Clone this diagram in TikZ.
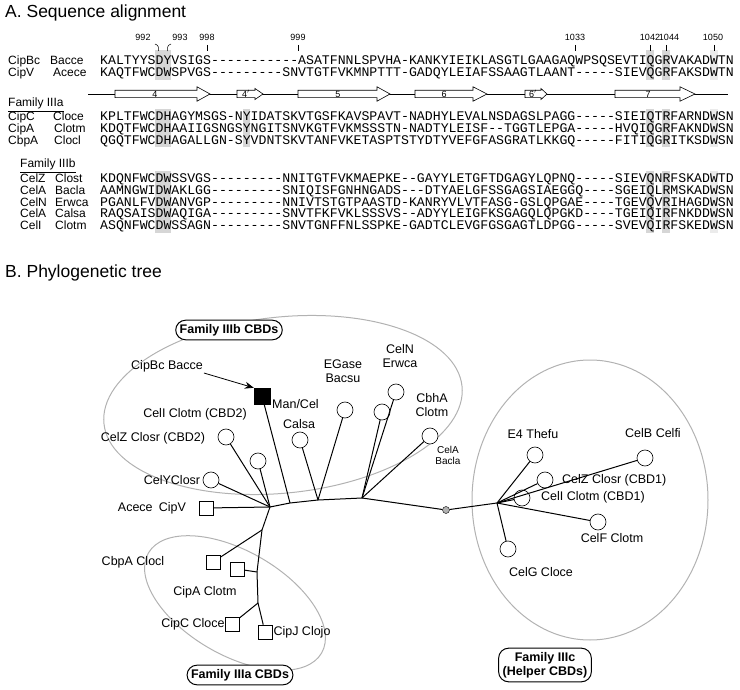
\documentclass[tikz,border=0pt]{standalone}
\usepackage{fontspec}
\setmainfont{Liberation Sans}
\newfontfamily\seqfont{Liberation Mono}
\usetikzlibrary{arrows.meta,shapes.geometric}
\begin{document}
\begin{tikzpicture}[x=1pt,y=-1pt,
  title/.style={font=\fontsize{17.5}{17.5}\selectfont, anchor=base west, inner sep=0pt},
  lab/.style={font=\fontsize{12}{12}\selectfont, anchor=base west, inner sep=0pt},
  seq/.style={font=\seqfont\fontsize{13.2}{11}\selectfont, anchor=base west, inner sep=0pt},
  num/.style={font=\fontsize{9}{9}\selectfont, inner sep=0pt},
  slab/.style={font=\fontsize{9}{9}\selectfont, inner sep=0pt},
  shA/.style={fill=gray!32},
  shB/.style={fill=gray!16},
  strand/.style={draw, fill=white, line width=0.6pt},
  circ/.style={draw, circle, minimum size=16pt, inner sep=0pt, fill=white, line width=0.6pt},
  sq/.style={draw, rectangle, minimum size=14pt, inner sep=0pt, fill=white, line width=0.6pt},
  tlab/.style={font=\fontsize{12.5}{14}\selectfont, inner sep=1pt, align=center},
  fambox/.style={draw, rounded corners=10pt, fill=white, line width=1pt, font=\bfseries\fontsize{12.5}{14}\selectfont, align=center, inner sep=4pt},
  famell/.style={draw=gray!60, line width=1pt},
  edge/.style={line width=1pt}
]
\useasboundingbox (0,0) rectangle (740,690);

% ---------------- A. Sequence alignment ----------------
\node[title] (tA) at (5,18) {A. Sequence alignment};

% shading, block 1
\fill[shA] (155.44,50) rectangle (171.28,80);
\fill[shA] (646.48,50) rectangle (654.40,80);
\fill[shA] (662.32,50) rectangle (670.24,80);
\fill[shB] (709.84,50) rectangle (717.76,80);
% block IIIa
\fill[shA] (155.44,109) rectangle (171.28,147);
\fill[shA] (242.56,109) rectangle (250.48,147);
\fill[shA] (646.48,109) rectangle (654.40,147);
\fill[shA] (662.32,109) rectangle (670.24,147);
\fill[shB] (709.84,109) rectangle (717.76,147);
% block IIIb
\fill[shA] (155.44,171) rectangle (171.28,233);
\fill[shA] (646.48,171) rectangle (654.40,233);
\fill[shA] (662.32,171) rectangle (670.24,233);
\fill[shB] (709.84,171) rectangle (717.76,233);

% residue numbers
\node[num] (n992) at (143,37) {992};
\node[num] (n993) at (180,37) {993};
\node[num] (n998) at (207,37) {998};
\node[num] (n999) at (298,37) {999};
\node[num] (n1033) at (575,37) {1033};
\node[num] (n1042) at (650,37) {1042};
\node[num] (n1044) at (669,37) {1044};
\node[num] (n1050) at (713,37) {1050};
\draw[line width=0.5pt] (155,44) .. controls (158.5,45) and (159,48) .. (158.5,51);
\draw[line width=0.5pt] (171,44) .. controls (167.5,45) and (167,48) .. (167.5,51);
\foreach \xx in {206.92,298,575.2,650.44,666.28,713.8}
  \draw[line width=0.5pt] (\xx,45) -- (\xx,51);

% rows
\node[lab] (r1a) at (8,65) {CipBc};   \node[lab] (r1b) at (50,65) {Bacce};
\node[seq] (s1) at (100,65) {KALTYYSDYVSIGS-----------ASATFNNLSPVHA-KANKYIEIKLASGTLGAAGAQWPSQSEVTIQGRVAKADWTN};
\node[lab] (r2a) at (8,77) {CipV};    \node[lab] (r2b) at (53,77) {Acece};
\node[seq] (s2) at (100,77) {KAQTFWCDWSPVGS---------SNVTGTFVKMNPTTT-GADQYLEIAFSSAAGTLAANT-----SIEVQGRFAKSDWTN};

% secondary structure
\draw[line width=0.6pt] (88,94) -- (728,94);
\draw[strand] (115,90.3) -- (197,90.3) -- (197,86.8) -- (210,94) -- (197,101.2) -- (197,97.7) -- (115,97.7) -- cycle;
\draw[strand] (237,90.3) -- (255,90.3) -- (255,88.5) -- (263,94) -- (255,99.5) -- (255,97.7) -- (237,97.7) -- cycle;
\draw[strand] (298,90.3) -- (377,90.3) -- (377,86.8) -- (390,94) -- (377,101.2) -- (377,97.7) -- (298,97.7) -- cycle;
\draw[strand] (415,90.3) -- (473,90.3) -- (473,86.8) -- (487,94) -- (473,101.2) -- (473,97.7) -- (415,97.7) -- cycle;
\draw[strand] (525,90.3) -- (541,90.3) -- (541,88.5) -- (547,94) -- (541,99.5) -- (541,97.7) -- (525,97.7) -- cycle;
\draw[strand] (615,90.3) -- (680,90.3) -- (680,86.8) -- (695,94) -- (680,101.2) -- (680,97.7) -- (615,97.7) -- cycle;
\node[slab] (st4) at (155,94) {4};
\node[slab] (st4p) at (246,94) {4$'$};
\node[slab] (st5) at (338,94) {5};
\node[slab] (st6) at (444,94) {6};
\node[slab] (st6p) at (533,94) {6$'$};
\node[slab] (st7) at (648,94) {7};

\node[lab] (fIIIa) at (8,107) {\underline{Family IIIa}};
\node[lab] (r3a) at (8,121) {CipC};  \node[lab] (r3b) at (53,121) {Cloce};
\node[seq] (s3) at (100,121) {KPLTFWCDHAGYMSGS-NYIDATSKVTGSFKAVSPAVT-NADHYLEVALNSDAGSLPAGG-----SIEIQTRFARNDWSN};
\node[lab] (r4a) at (8,133) {CipA};  \node[lab] (r4b) at (54,133) {Clotm};
\node[seq] (s4) at (100,133) {KDQTFWCDHAAIIGSNGSYNGITSNVKGTFVKMSSSTN-NADTYLEISF--TGGTLEPGA-----HVQIQGRFAKNDWSN};
\node[lab] (r5a) at (8,145) {CbpA};  \node[lab] (r5b) at (54,145) {Clocl};
\node[seq] (s5) at (100,145) {QGQTFWCDHAGALLGN-SYVDNTSKVTANFVKETASPTSTYDTYVEFGFASGRATLKKGQ-----FITIQGRITKSDWSN};

\node[lab] (fIIIb) at (20,168) {\underline{Family IIIb}};
\node[lab] (r6a) at (20,183) {CelZ};  \node[lab] (r6b) at (55,183) {Clost};
\node[seq] (s6) at (100,183) {KDQNFWCDWSSVGS---------NNITGTFVKMAEPKE--GAYYLETGFTDGAGYLQPNQ-----SIEVQNRFSKADWTD};
\node[lab] (r7a) at (20,195) {CelA};  \node[lab] (r7b) at (55,195) {Bacla};
\node[seq] (s7) at (100,195) {AAMNGWIDWAKLGG---------SNIQISFGNHNGADS---DTYAELGFSSGAGSIAEGGQ----SGEIQLRMSKADWSN};
\node[lab] (r8a) at (20,207) {CelN};  \node[lab] (r8b) at (55,207) {Erwca};
\node[seq] (s8) at (100,207) {PGANLFVDWANVGP---------NNIVTSTGTPAASTD-KANRYVLVTFASG-GSLQPGAE----TGEVQVRIHAGDWSN};
\node[lab] (r9a) at (20,218) {CelA};  \node[lab] (r9b) at (55,218) {Calsa};
\node[seq] (s9) at (100,218) {RAQSAISDWAQIGA---------SNVTFKFVKLSSSVS--ADYYLEIGFKSGAGQLQPGKD----TGEIQIRFNKDDWSN};
\node[lab] (r10a) at (20,230) {CelI};  \node[lab] (r10b) at (55,230) {Clotm};
\node[seq] (s10) at (100,230) {ASQNFWCDWSSAGN---------SNVTGNFFNLSSPKE-GADTCLEVGFGSGAGTLDPGG-----SVEVQIRFSKEDWSN};

% ---------------- B. Phylogenetic tree ----------------
\node[title] (tB) at (5,278) {B. Phylogenetic tree};

% family ellipses
\draw[famell] (283,405) ellipse [x radius=180, y radius=88, rotate=6];
\draw[famell] (590,500) ellipse [x radius=118, y radius=140];
\draw[famell] (235,603) ellipse [x radius=100, y radius=52, rotate=-30];

% backbone junctions
\coordinate (jA) at (270,507);
\coordinate (jB) at (290,503);
\coordinate (jC) at (318,500);
\coordinate (jD) at (362,498);
\node[circle, fill=gray!60, draw, minimum size=7pt, inner sep=0pt] (gd) at (446,510) {};
\coordinate (jR) at (497,503);
\coordinate (jIIIa) at (262,530);
\coordinate (jIIIa2) at (257,572);
\coordinate (jIIIa3) at (258,603);

% IIIb leaves
\node[draw, fill=black, minimum size=16pt, inner sep=0pt] (cipbc) at (262,396) {};
\node[circ] (celi2) at (226,437) {};
\node[circ] (celz2) at (258,461) {};
\node[circ] (cely) at (211,480) {};
\node[circ] (mancel) at (300,440) {};
\node[circ] (egase) at (345,410) {};
\node[circ] (celn) at (396,392) {};
\node[circ] (cbha) at (382,412) {};
\node[circ] (cela) at (430,436) {};

% IIIc leaves
\node[circ] (e4) at (535,455) {};
\node[circ] (celb) at (645,458) {};
\node[circ] (celz1) at (545,480) {};
\node[circ] (celi1) at (522,498) {};
\node[circ] (celf) at (598,522) {};
\node[circ] (celg) at (508,549) {};

% IIIa leaves
\node[sq] (cipv) at (206,508) {};
\node[sq] (cbpa) at (213,562) {};
\node[sq] (cipa) at (237,569) {};
\node[sq] (cipc) at (232,624) {};
\node[sq] (cipj) at (265,632) {};

% edges
\draw[edge] (cipv) -- (jA) -- (jB) -- (jC) -- (jD) -- (gd) -- (jR);
\draw[edge] (cipbc) -- (jB);
\draw[edge] (celi2) -- (jA);
\draw[edge] (celz2) -- (jA);
\draw[edge] (cely) -- (jA);
\draw[edge] (mancel) -- (jC);
\draw[edge] (egase) -- (jC);
\draw[edge] (celn) -- (jD);
\draw[edge] (cbha) -- (jD);
\draw[edge] (cela) -- (jD);
\draw[edge] (jA) -- (jIIIa) -- (jIIIa2) -- (jIIIa3);
\draw[edge] (cbpa) -- (jIIIa);
\draw[edge] (cipa) -- (jIIIa2);
\draw[edge] (cipc) -- (jIIIa3);
\draw[edge] (cipj) -- (jIIIa3);
\draw[edge] (e4) -- (jR);
\draw[edge] (celb) -- (jR);
\draw[edge] (celz1) -- (jR);
\draw[edge] (celi1) -- (jR);
\draw[edge] (celf) -- (jR);
\draw[edge] (celg) -- (jR);

% leaf labels
\node[tlab] (lcipbc) at (167,366) {CipBc Bacce};
\draw[line width=0.8pt, -{Stealth[length=9pt,width=7pt]}] (lcipbc.south east) -- (cipbc.north west);
\node[tlab, anchor=west] (lmancel) at (271,404) {Man/Cel};
\node[tlab, anchor=west] (lcalsa) at (282,424) {Calsa};
\node[tlab] (lceli2) at (195,414) {CelI Clotm (CBD2)};
\node[tlab] (lcelz2) at (153,438) {CelZ Closr (CBD2)};
\node[tlab] (lcely) at (172,480) {CelYClosr};
\node[tlab] (legase) at (343,371) {EGase\\Bacsu};
\node[tlab] (lceln) at (400,356) {CelN\\Erwca};
\node[tlab] (lcbha) at (432,405) {CbhA\\Clotm};
\node[font=\fontsize{10}{11}\selectfont, align=center, inner sep=1pt] (lcela) at (448,455) {CelA\\Bacla};
\node[tlab] (lcipv) at (152,508) {Acece\enspace CipV};
\node[tlab] (lcbpa) at (133,562) {CbpA Clocl};
\node[tlab] (lcipa) at (205,592) {CipA Clotm};
\node[tlab] (lcipc) at (193,624) {CipC Cloce};
\node[tlab] (lcipj) at (302,632) {CipJ Clojo};
\node[tlab] (le4) at (533,434) {E4 Thefu};
\node[tlab] (lcelb) at (653,433) {CelB Celfi};
\node[tlab, anchor=west] (lcelz1) at (561,480) {CelZ Closr (CBD1)};
\node[tlab, anchor=west] (lceli1) at (540,497) {CelI Clotm (CBD1)};
\node[tlab] (lcelf) at (612,538) {CelF Clotm};
\node[tlab] (lcelg) at (541,572) {CelG Cloce};

% family boxes
\node[fambox] (bIIIb) at (229,330) {Family IIIb CBDs};
\node[fambox] (bIIIa) at (240,675) {Family IIIa CBDs};
\node[fambox] (bIIIc) at (545,665) {Family IIIc\\(Helper CBDs)};
\end{tikzpicture}
\end{document}
